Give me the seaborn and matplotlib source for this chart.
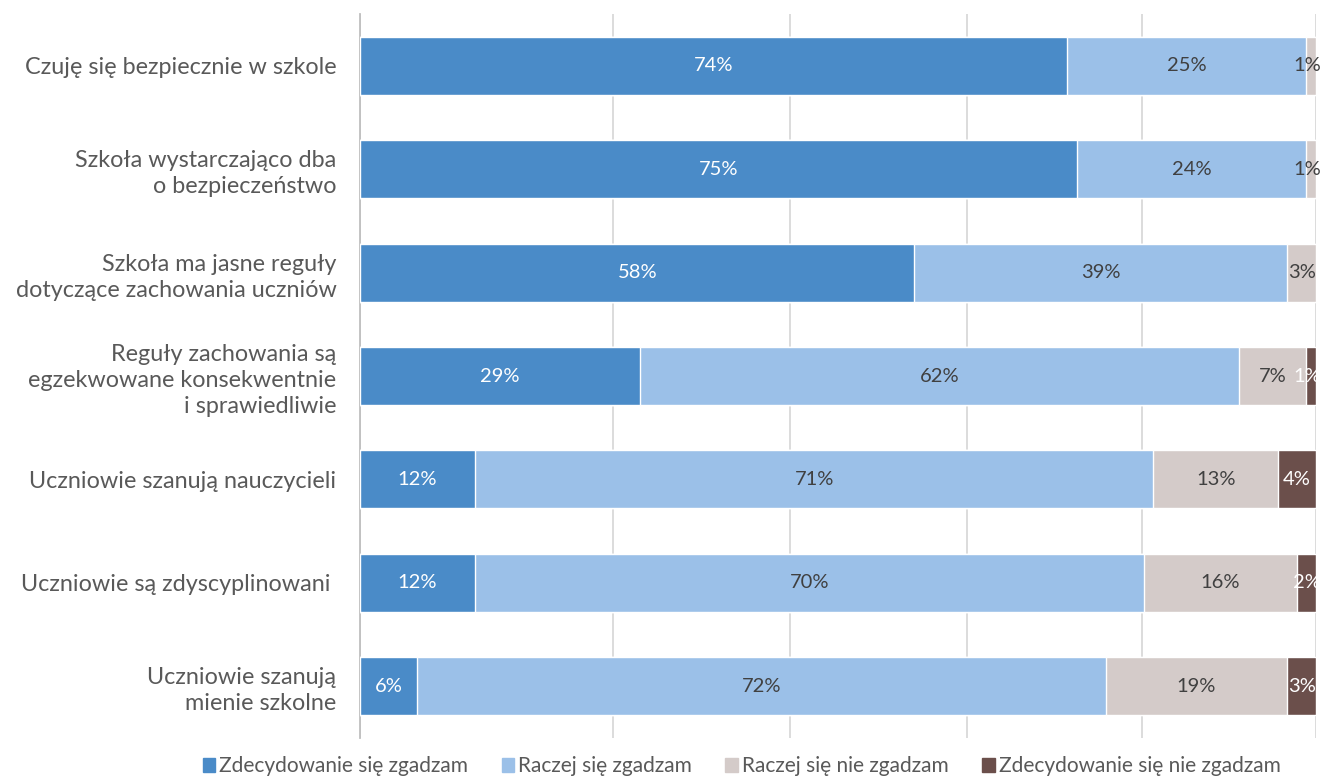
import numpy as np
import pandas as pd
import matplotlib
matplotlib.use("Agg")
import matplotlib.pyplot as plt
import seaborn as sns

categories = [
    "Czuję się bezpiecznie w szkole",
    "Szkoła wystarczająco dba\no bezpieczeństwo",
    "Szkoła ma jasne reguły\ndotyczące zachowania uczniów",
    "Reguły zachowania są\negzekwowane konsekwentnie\ni sprawiedliwie",
    "Uczniowie szanują nauczycieli",
    "Uczniowie są zdyscyplinowani ",
    "Uczniowie szanują\nmienie szkolne",
]
series = [
    "Zdecydowanie się zgadzam",
    "Raczej się zgadzam",
    "Raczej się nie zgadzam",
    "Zdecydowanie się nie zgadzam",
]
strongly_agree = [74, 75, 58, 29, 12, 12, 6]
rather_agree = [25, 24, 39, 62, 71, 70, 72]
rather_disagree = [1, 1, 3, 7, 13, 16, 19]
strongly_disagree = [0, 0, 0, 1, 4, 2, 3]

colors = ["#4a8bc8", "#9bc0e8", "#d4cbc9", "#6b4f4b"]
text_colors = ["white", "#404040", "#404040", "white"]

vals = np.array([strongly_agree, rather_agree, rather_disagree, strongly_disagree], dtype=float)
shares = vals / vals.sum(axis=0)  # each bar spans 100%
cum = np.cumsum(shares, axis=0)

sns.set_style("white")
plt.rcParams["font.family"] = ["Lato", "DejaVu Sans"]

fig = plt.figure(figsize=(13.22, 7.81), dpi=100)
ax = fig.add_axes([360 / 1322, 1 - 738 / 781, 956 / 1322, 724 / 781])

# stacked bars: draw cumulative totals from the last series to the first
for i in range(3, -1, -1):
    df = pd.DataFrame({"cat": categories, "val": cum[i]})
    sns.barplot(data=df, x="val", y="cat", orient="h", color=colors[i],
                saturation=1, width=0.56, ax=ax, zorder=3)

# value labels (tiny end segments: keep the label inside the figure)
for i in range(4):
    left = cum[i] - shares[i]
    for j, v in enumerate(vals[i]):
        if v <= 0:
            continue
        x = left[j] + shares[i][j] / 2
        ha = "center"
        if x > 0.99:
            x, ha = 1.0055, "right"
        ax.text(x, j, f"{int(v)}%", ha=ha, va="center",
                fontsize=14.5, color=text_colors[i], zorder=5, clip_on=False)

ax.set_xlim(0, 1)
ax.set_ylim(6.5, -0.5)
ax.set_xticks([0, 0.265, 0.45, 0.635, 0.8175, 1.0])
ax.xaxis.grid(True, color="#d9d9d9", linewidth=1.3, zorder=0)
ax.tick_params(axis="x", length=0, labelbottom=False)
ax.tick_params(axis="y", length=0, pad=17, labelsize=16.8, labelcolor="#595959")
for lbl in ax.get_yticklabels():
    lbl.set_multialignment("right")
    lbl.set_linespacing(1.3)
ax.set_xlabel("")
ax.set_ylabel("")
for s in ["top", "right", "bottom"]:
    ax.spines[s].set_visible(False)
ax.spines["left"].set_color("#bfbfbf")
ax.spines["left"].set_linewidth(1.3)

handles = [plt.Rectangle((0, 0), 1, 1, color=c) for c in colors]
fig.legend(handles, series, loc="lower center", bbox_to_anchor=(0.561, -0.018), ncol=4,
           frameon=False, fontsize=15, handlelength=0.6, handleheight=0.6,
           handletextpad=0.2, columnspacing=1.6, labelcolor="#595959")

fig.savefig("out.png", dpi=100)
